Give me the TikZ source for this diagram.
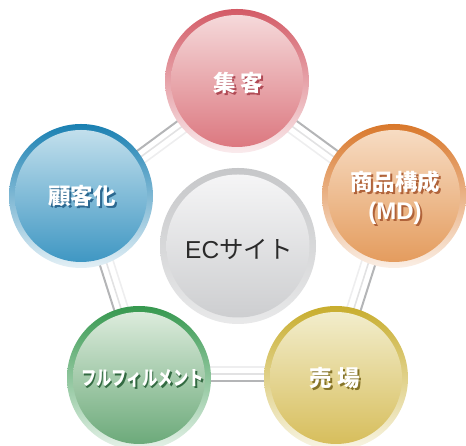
\documentclass[tikz,border=0pt]{standalone}
\usepackage{fontspec}
\usepackage{graphicx}
\usetikzlibrary{calc}
\newfontfamily\jp{Noto Sans CJK JP}
\newfontfamily\lat{Liberation Sans}
\definecolor{railgray}{HTML}{B4B5B7}
\definecolor{raillightA}{HTML}{E2E2E3}
\definecolor{raillightB}{HTML}{EEEEEF}
\definecolor{redRing}{HTML}{D35B66}
\definecolor{redTop}{HTML}{F5D9DA}
\definecolor{redBot}{HTML}{DC7880}
\definecolor{redSh}{HTML}{B04A55}
\definecolor{orRing}{HTML}{D9782B}
\definecolor{orTop}{HTML}{F7DCC3}
\definecolor{orBot}{HTML}{E49C5E}
\definecolor{orSh}{HTML}{B0633A}
\definecolor{blRing}{HTML}{1A80B2}
\definecolor{blTop}{HTML}{C2DFEC}
\definecolor{blBot}{HTML}{3F97C3}
\definecolor{blSh}{HTML}{2C6890}
\definecolor{grRing}{HTML}{36984F}
\definecolor{grTop}{HTML}{DCEBDC}
\definecolor{grBot}{HTML}{6CAA7A}
\definecolor{grSh}{HTML}{336A42}
\definecolor{yeRing}{HTML}{C8AD2E}
\definecolor{yeTop}{HTML}{F2EDCC}
\definecolor{yeBot}{HTML}{D7BE5C}
\definecolor{yeSh}{HTML}{857328}
\definecolor{gyRing}{HTML}{C6C7C9}
\definecolor{gyTop}{HTML}{F5F5F6}
\definecolor{gyBot}{HTML}{CDCED0}
\definecolor{ectext}{HTML}{2A2A2A}
\tikzset{
  railout/.style={line width=2pt, draw=railgray},
  railinA/.style={line width=1.6pt, draw=raillightA},
  railinB/.style={line width=1.6pt, draw=raillightB},
  ringdisc/.style={circle, inner sep=0pt, minimum size=144pt},
  innerdisc/.style={circle, inner sep=0pt, minimum size=132pt},
  lbl/.style={font=\jp\bfseries\fontsize{22.5pt}{29pt}\selectfont, text=white, align=center, inner sep=0pt},
}
% text with an offset coloured shadow, in one box
\newcommand\shtext[2]{\makebox[0pt][l]{\hspace{2pt}\raisebox{-2pt}{\textcolor{#1}{#2}}}#2}
\newcommand\railedge[2]{%
  \draw[railout] ($(#1)!3pt!90:(#2)$) -- ($(#2)!3pt!-90:(#1)$);
  \draw[railinA] ($(#1)!4pt!-90:(#2)$) -- ($(#2)!4pt!90:(#1)$);
  \draw[railinB] ($(#1)!11pt!-90:(#2)$) -- ($(#2)!11pt!90:(#1)$);
}
\begin{document}
\begin{tikzpicture}[x=1pt,y=1pt]
\useasboundingbox (0,0) rectangle (466,446);
\begin{scope}
\clip (0,0) rectangle (466,446);
\coordinate (pT) at (237,365);
\coordinate (pR) at (394,250);
\coordinate (pL) at (81,250);
\coordinate (pBL) at (139,68);
\coordinate (pBR) at (336,68);
\coordinate (pC) at (238,200);
% rails
\railedge{pT}{pR}
\railedge{pR}{pBR}
\railedge{pBR}{pBL}
\railedge{pBL}{pL}
\railedge{pL}{pT}
% center
\node[circle, inner sep=0pt, minimum size=160pt, fill=white] (cHalo) at (pC) {};
\node[circle, inner sep=0pt, minimum size=156pt, top color=gyRing, bottom color=gyRing!40!white] (cRing) at (pC) {};
\node[circle, inner sep=0pt, minimum size=143pt, top color=gyTop, bottom color=gyBot] (cIn) at (pC) {};
\node[font=\jp\fontsize{24.5pt}{28pt}\selectfont, text=ectext, inner sep=0pt] (cLbl) at ($(pC)+(1,-3)$) {{\lat EC}サイト};
% top
\node[ringdisc, top color=redRing, bottom color=redRing!12!white] (tRing) at (pT) {};
\node[innerdisc, top color=redTop, bottom color=redBot] (tIn) at (pT) {};
\node[lbl] (tLbl) at ($(pT)+(1,-2.5)$) {\shtext{redSh}{集\hspace{5pt}客}};
% right
\node[ringdisc, top color=orRing, bottom color=orRing!12!white] (rRing) at (pR) {};
\node[innerdisc, top color=orTop, bottom color=orBot] (rIn) at (pR) {};
\node[lbl] (rLbl) at ($(pR)+(1,-3)$) {\shtext{orSh}{商品構成}\\\shtext{orSh}{\lat\fontsize{24pt}{29pt}\selectfont(MD)}};
% left
\node[ringdisc, top color=blRing, bottom color=blRing!12!white] (lRing) at (pL) {};
\node[innerdisc, top color=blTop, bottom color=blBot] (lIn) at (pL) {};
\node[lbl] (lLbl) at ($(pL)+(1,-1)$) {\shtext{blSh}{顧客化}};
% bottom left
\node[ringdisc, top color=grRing, bottom color=grRing!12!white] (blRingN) at (pBL) {};
\node[innerdisc, top color=grTop, bottom color=grBot] (blIn) at (pBL) {};
\node[lbl, font=\jp\bfseries\fontsize{20pt}{24pt}\selectfont] (blLbl) at ($(pBL)+(3.5,-1)$) {\scalebox{0.77}[1]{\shtext{grSh}{フルフィルメント}}};
% bottom right
\node[ringdisc, top color=yeRing, bottom color=yeRing!12!white] (brRing) at (pBR) {};
\node[innerdisc, top color=yeTop, bottom color=yeBot] (brIn) at (pBR) {};
\node[lbl] (brLbl) at ($(pBR)+(-1,-1)$) {\shtext{yeSh}{売\hspace{6pt}場}};
\end{scope}
\end{tikzpicture}
\end{document}
